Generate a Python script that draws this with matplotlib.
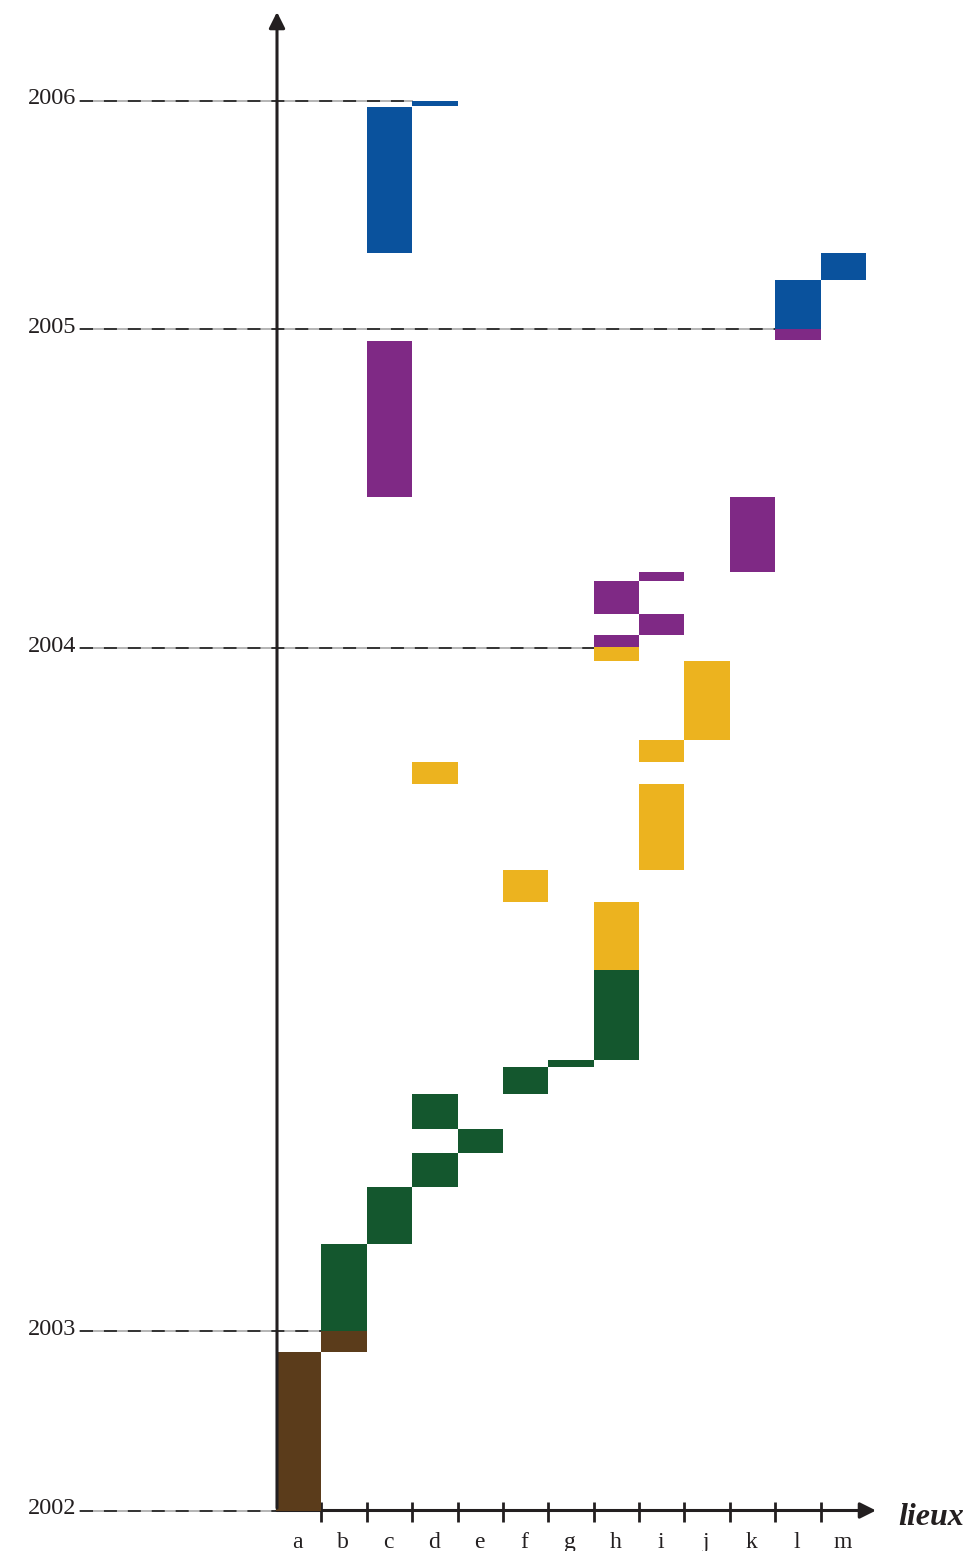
import matplotlib.pyplot as plt
import matplotlib.transforms as mtransforms
import numpy as np

# places (columns) and the time spans spent in each, phase by phase
lieux = list('abcdefghijklm')
block_lieu = ['a', 'b',
              'b', 'c', 'd', 'e', 'd', 'f', 'g', 'h',
              'h', 'f', 'i', 'd', 'i', 'j', 'h',
              'h', 'i', 'h', 'i', 'k', 'c', 'l',
              'l', 'm', 'c', 'd']
block_start = [2002.000, 2002.883,
               2003.000, 2003.128, 2003.211, 2003.261, 2003.296, 2003.348, 2003.387, 2003.397,
               2003.529, 2003.629, 2003.675, 2003.802, 2003.834, 2003.866, 2003.981,
               2004.006, 2004.041, 2004.109, 2004.213, 2004.241, 2004.475, 2004.966,
               2005.000, 2005.215, 2005.333, 2005.978]
block_end = [2002.883, 2003.000,
             2003.128, 2003.211, 2003.261, 2003.296, 2003.348, 2003.387, 2003.397, 2003.529,
             2003.629, 2003.675, 2003.802, 2003.834, 2003.866, 2003.981, 2004.006,
             2004.041, 2004.109, 2004.213, 2004.241, 2004.475, 2004.963, 2005.000,
             2005.215, 2005.333, 2005.974, 2006.000]
block_phase = [0, 0,
               1, 1, 1, 1, 1, 1, 1, 1,
               2, 2, 2, 2, 2, 2, 2,
               3, 3, 3, 3, 3, 3, 3,
               4, 4, 4, 4]
phase_colors = ['#5b3c1b', '#14572e', '#ecb31f', '#7f2985', '#0a529d']

years = [2002, 2003, 2004, 2005, 2006]
line_end = [0.02, 1, 7, 11, 3]   # how far each year's dashed guide runs

# uneven vertical scale: each year gets its own height
scale_years = [2001, 2002, 2003, 2004, 2005, 2006, 2007]
scale_pos = [-138, 40.5, 219.5, 902.5, 1221.5, 1450, 1678]


def fwd(y):
    return np.interp(y, scale_years, scale_pos)


def inv(p):
    return np.interp(p, scale_pos, scale_years)


ink = '#231f20'
serif = ['Liberation Serif', 'DejaVu Serif']
x0 = 276.0      # pixel where column a begins
colw = 45.38


def px(p):
    return (p - x0) / colw


fig = plt.figure(figsize=(9.69, 15.51), dpi=100)
ax = fig.add_axes([0, 0, 1, 1])
ax.set_yscale('function', functions=(fwd, inv))
ax.axis('off')

x = np.array([lieux.index(l) for l in block_lieu]) + 0.5
start = np.array(block_start)
end = np.array(block_end)
cols = [phase_colors[p] for p in block_phase]
ax.bar(x, end - start, bottom=start, width=1.0, color=cols,
       linewidth=0, zorder=3)

# dashed year guides and labels
x_left = px(80)
for y, e in zip(years, line_end):
    ax.plot([x_left, e], [y, y], color='#b4b4b4', lw=1.4, zorder=1)
    ax.plot([x_left, e], [y, y], color='#333333', lw=1.4,
            ls=(0, (6.7, 5.6)), zorder=1)
    ax.annotate(str(y), xy=(px(76.5), y), xytext=(0, -2.5),
                textcoords='offset points', ha='right', va='baseline',
                fontsize=17.5, family=serif, color=ink)

# axes with arrows
ax_x = px(277)
ax.annotate('', xy=(ax_x, inv(1551 - 12)), xytext=(ax_x, inv(1551 - 1508)),
            arrowprops=dict(arrowstyle='-|>', lw=2.2, color=ink,
                            mutation_scale=24, shrinkA=0, shrinkB=0),
            zorder=4)
ax.annotate('', xy=(px(876), 2002), xytext=(ax_x, 2002),
            arrowprops=dict(arrowstyle='-|>', lw=2.2, color=ink,
                            mutation_scale=24, shrinkA=0, shrinkB=0),
            zorder=2)
ax.plot(np.arange(1, len(lieux)), [inv(1551 - 1511.5)] * (len(lieux) - 1),
        ls='none', marker='|', ms=14, mew=2, color=ink, zorder=2)

trans = mtransforms.blended_transform_factory(ax.transData, ax.transAxes)
for i, lab in enumerate(lieux):
    ax.text(i + 0.48, 0.002, lab, transform=trans, ha='center',
            va='baseline', fontsize=17, family=serif, color=ink)

ax.text(px(898), inv(1551 - 1525), 'lieux', ha='left',
        va='baseline', fontsize=23, family=serif, fontweight='bold',
        style='italic', color=ink)

ax.set_xlim(px(0), px(969))
ax.set_ylim(inv(0), inv(1551))

fig.savefig('out.png', dpi=100)
